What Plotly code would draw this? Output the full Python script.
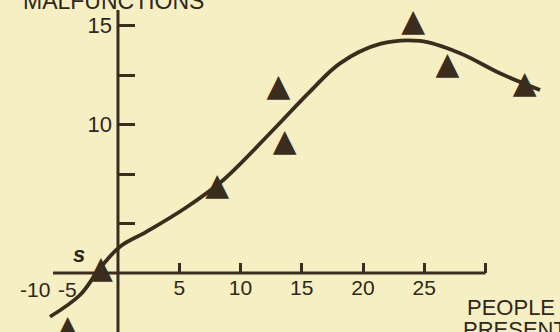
import plotly.graph_objects as go

# observed data points (people present, malfunctions)
point_x = [-4.1, -1.4, 8.1, 13.1, 13.6, 24.1, 26.9, 33.2]
point_y = [-0.33, 2.65, 6.84, 11.84, 9.07, 15.13, 12.95, 12.0]

# hand-drawn trend curve
curve_x = [-5.55, -3.1, -1.47, 0.16, 2.34, 5.47, 8.6, 12.41, 15.67, 18.12,
           21.39, 24.65, 27.92, 31.18, 34.45]
curve_y = [0.29, 1.39, 2.74, 3.83, 4.59, 5.77, 7.2, 9.56, 11.66, 13.09,
           14.07, 14.22, 13.6, 12.59, 11.74]

x_tick_vals = [5, 10, 15, 20, 25, 30]
x_tick_text = ["5", "10", "15", "20", "25", ""]
y_tick_vals = [5, 7.5, 10, 12.5, 15]
y_tick_text = ["", "", "10", "", "15"]

BG = "#F6EFC3"
INK = "#3a2d1d"
TXT = "#2e271b"
FONT = "Liberation Sans"

X_RANGE = [-9.63, 36.08]
Y_RANGE = [-0.48, 16.29]
X_AXIS_Y = 2.5
Y_AXIS_TOP = 15.78

fig = go.Figure()
fig.add_trace(go.Scatter(x=curve_x, y=curve_y, mode="lines",
                         line=dict(color=INK, width=3.8, shape="spline", smoothing=1.0),
                         hoverinfo="skip"))
fig.add_trace(go.Scatter(x=point_x, y=point_y, mode="text", text=["▲"] * len(point_x),
                         textposition="middle center",
                         textfont=dict(family="DejaVu Sans", size=31, color=INK),
                         hoverinfo="skip"))

# axis lines
fig.add_shape(type="line", xref="x", yref="y", x0=-5.3, x1=30, y0=X_AXIS_Y, y1=X_AXIS_Y,
              line=dict(color=INK, width=3))
fig.add_shape(type="line", xref="x", yref="y", x0=0, x1=0, y0=Y_RANGE[0], y1=Y_AXIS_TOP,
              line=dict(color=INK, width=3))

ypos = (X_AXIS_Y - Y_RANGE[0]) / (Y_RANGE[1] - Y_RANGE[0])
xpos = (0 - X_RANGE[0]) / (X_RANGE[1] - X_RANGE[0])

fig.update_layout(
    width=560, height=332,
    margin=dict(l=0, r=0, t=0, b=0),
    paper_bgcolor=BG, plot_bgcolor=BG,
    showlegend=False,
    xaxis=dict(range=X_RANGE, showgrid=False, zeroline=False, showline=False,
               anchor="free", position=ypos,
               tickvals=x_tick_vals, ticktext=x_tick_text,
               ticks="inside", ticklen=10, tickwidth=3, tickcolor=INK,
               tickfont=dict(family=FONT, size=21, color=TXT)),
    yaxis=dict(range=Y_RANGE, showgrid=False, zeroline=False,
               anchor="free", position=xpos, showline=False,
               tickvals=y_tick_vals, ticktext=y_tick_text,
               ticks="inside", ticklen=16, tickwidth=3, tickcolor=INK,
               ticklabelstandoff=6,
               tickfont=dict(family=FONT, size=22, color=TXT)),
)

fig.add_annotation(x=-6.78, y=1.65, xref="x", yref="y", text="-10", showarrow=False,
                   font=dict(family=FONT, size=21, color=TXT))
fig.add_annotation(x=-4.1, y=1.65, xref="x", yref="y", text="-5", showarrow=False,
                   font=dict(family=FONT, size=21, color=TXT))
fig.add_annotation(x=-3.2, y=3.45, xref="x", yref="y", text="<i><b>s</b></i>", showarrow=False,
                   font=dict(family=FONT, size=22, color=TXT))
fig.add_annotation(x=466 / 560, y=1 - 307 / 332, xref="paper", yref="paper", text="PEOPLE",
                   xanchor="left", yanchor="middle", showarrow=False, xshift=-1,
                   font=dict(family=FONT, size=22, color=TXT))
fig.add_annotation(x=462 / 560, y=1 - 329 / 332, xref="paper", yref="paper", text="PRESENT",
                   xanchor="left", yanchor="middle", showarrow=False, xshift=-1,
                   font=dict(family=FONT, size=22, color=TXT))
fig.add_annotation(x=22 / 560, y=1 - 1.5 / 332, xref="paper", yref="paper", text="MALFUNCTIONS",
                   xanchor="left", yanchor="middle", showarrow=False, xshift=-1,
                   font=dict(family=FONT, size=23, color=TXT))

fig.write_html("out.html", post_script="document.body.style.margin='0';",
               config={"displayModeBar": False})
